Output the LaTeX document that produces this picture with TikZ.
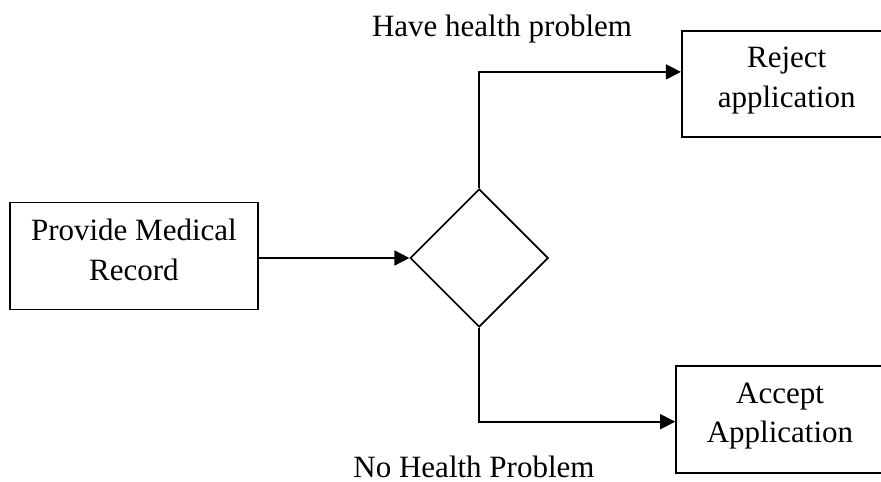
\documentclass[tikz,border=0pt]{standalone}
\usepackage{fontspec}
\setmainfont{Liberation Serif}
\usepackage{tikz}
\usetikzlibrary{shapes.geometric, arrows.meta, positioning, calc}
\tikzset{
  procbox/.style={rectangle, draw=black, fill=white,
    align=center, minimum height=106.7pt, inner sep=0pt,
    text depth=13pt, line width=1.6pt},
  decision/.style={diamond, draw=black, fill=white,
    minimum width=138pt, minimum height=138pt, inner sep=0pt,
    line width=1.6pt},
  lbl/.style={anchor=base, inner sep=0pt},
  arrow/.style={-{Triangle[length=15pt, width=15pt]}, line width=1.6pt, color=black}
}

\begin{document}
\begin{tikzpicture}[x=1pt, y=1pt, font=\fontsize{31}{39.5}\selectfont]
  \useasboundingbox (0,0) rectangle (881,-482);
  \clip (0,0) rectangle (881,-482);

  \node[procbox, minimum width=247.7pt] (prov) at (133.9,-256)
    {Provide Medical\\Record};
  \node[decision] (dec) at (479.2,-258) {};
  \node[procbox, minimum width=210pt, minimum height=105.7pt] (rej) at (786.7,-83.9)
    {Reject\\application};
  \node[procbox, minimum width=208pt] (acc) at (780,-419.4)
    {Accept\\Application};

  \node[lbl] (yes) at (502,-36.7) {Have health problem};
  \node[lbl] (no) at (474,-477) {No Health Problem};

  \draw[arrow] (prov.east |- dec.west) -- (dec.west);
  \draw[arrow] (dec.north) |- ([yshift=12pt]rej.west);
  \draw[arrow] (dec.south) |- ([yshift=-2.3pt]acc.west);
\end{tikzpicture}
\end{document}
